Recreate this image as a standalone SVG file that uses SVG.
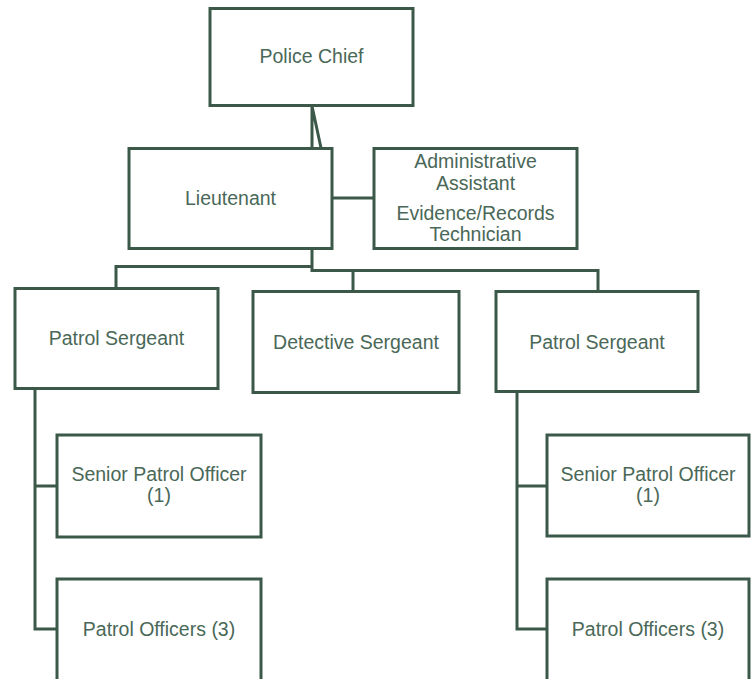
<svg xmlns="http://www.w3.org/2000/svg" width="755" height="679" viewBox="0 0 755 679">
<style>
.box{fill:#ffffff;stroke:#3b5849;stroke-width:3}
.ln{fill:none;stroke:#3b5849;stroke-width:3}
text{font-family:"Liberation Sans",Arial,sans-serif;font-size:19.5px;fill:#4a6858;text-anchor:middle}
</style>
<rect width="755" height="679" fill="#ffffff"/>
<g id="connectors">
<path class="ln" d="M312 106 V148 M312 106 L321 148"/>
<path class="ln" d="M332 198 H374"/>
<path class="ln" d="M312 249 V270.5 H598 V291.5 M353 270.5 V291.5"/>
<path class="ln" d="M312 266.5 H116 V288.5"/>
<path class="ln" d="M35 388.5 V629 H57 M35 486 H57"/>
<path class="ln" d="M517 391.5 V629 H547 M517 486 H547"/>
</g>
<g id="chief"><rect class="box" x="210" y="8.5" width="203" height="97"/><text x="311.5" y="63">Police Chief</text></g>
<g id="lieutenant"><rect class="box" x="129" y="148.5" width="203" height="100"/><text x="230.5" y="205">Lieutenant</text></g>
<g id="admin"><rect class="box" x="374" y="148.5" width="203" height="100"/>
<text x="475.5" y="168">Administrative</text><text x="475.5" y="190">Assistant</text>
<text x="475.5" y="220">Evidence/Records</text><text x="475.5" y="241">Technician</text></g>
<g id="patrol-sergeant-1"><rect class="box" x="15" y="288.5" width="203" height="100"/><text x="116.5" y="345">Patrol Sergeant</text></g>
<g id="detective-sergeant"><rect class="box" x="253" y="291.5" width="206" height="101"/><text x="356" y="349">Detective Sergeant</text></g>
<g id="patrol-sergeant-2"><rect class="box" x="496" y="291.5" width="202" height="100"/><text x="597" y="349">Patrol Sergeant</text></g>
<g id="senior-officer-1"><rect class="box" x="57" y="435" width="204" height="102"/><text x="159" y="481">Senior Patrol Officer</text><text x="159" y="502">(1)</text></g>
<g id="patrol-officers-1"><rect class="box" x="57" y="579" width="204" height="103"/><text x="159" y="636">Patrol Officers (3)</text></g>
<g id="senior-officer-2"><rect class="box" x="547" y="435" width="202" height="101"/><text x="648" y="481">Senior Patrol Officer</text><text x="648" y="502">(1)</text></g>
<g id="patrol-officers-2"><rect class="box" x="547" y="579" width="202" height="103"/><text x="648" y="636">Patrol Officers (3)</text></g>
</svg>
